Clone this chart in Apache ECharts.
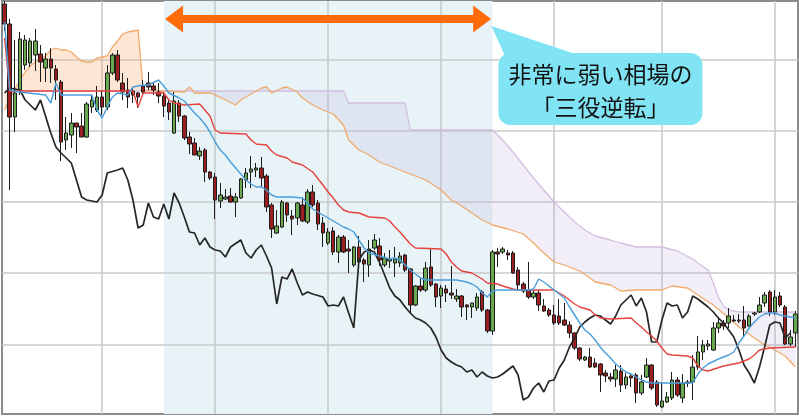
<!DOCTYPE html>
<html>
<head>
<meta charset="utf-8">
<script src="https://cdn.jsdelivr.net/npm/echarts/dist/echarts.min.js"></script>
<style>
html,body{margin:0;padding:0;background:#fff;}
#chart{width:799px;height:417px;}
</style>
</head>
<body>
<div id="chart"></div>
<script>
// ---- data (price units) ----
const dayCount = 155;
const days = Array.from({length: dayCount}, (_, i) => 'D' + (i + 1));

// [open, close, low, high]
const candles = [
[996,976,969,999],[976,883,810,981],[883,907,868,960],[910,961,905,968],[935,960,930,965],
[937,959,933,962],[945,959,929,971],[946,938,918,955],[932,941,918,947],[941,932,917,952],
[931,920,900,935],[918,858,839,920],[860,867,850,883],[865,877,852,887],[877,873,847,877],
[874,863,863,887],[863,896,862,898],[893,900,887,905],[890,903,888,914],[903,893,885,910],
[893,927,890,935],[927,945,925,947],[945,920,918,950],[917,908,900,927],[910,903,892,922],
[909,905,897,913],[907,903,892,908],[914,908,905,920],[917,913,910,928],[914,910,905,917],
[908,904,897,917],[904,894,883,908],[897,888,880,900],[867,899,866,908],[897,884,878,900],
[884,862,860,885],[863,856,846,868],[857,845,845,862],[844,849,840,853],[850,828,818,852],
[828,822,820,829],[823,800,781,827],[799,805,792,817],[801,803,800,811],[804,798,797,812],
[798,803,783,807],[802,821,801,822],[820,827,812,832],[828,831,812,844],[830,832,823,837],
[832,822,813,843],[824,793,788,826],[795,771,762,797],[767,774,766,790],[773,798,772,800],
[797,785,778,798],[784,781,765,790],[782,797,775,798],[795,779,778,802],[778,808,776,811],
[808,795,793,815],[797,776,770,800],[777,767,753,783],[757,768,755,772],[769,748,745,773],
[748,763,737,765],[763,748,747,765],[751,749,727,760],[735,753,733,754],[753,738,728,764],
[740,736,718,742],[735,751,723,760],[752,760,750,766],[754,740,734,762],[735,742,733,747],
[739,741,732,750],[737,741,723,753],[737,744,733,748],[745,730,728,746],[731,695,687,732],
[695,714,694,715],[714,710,708,722],[710,732,708,738],[733,715,713,752],[716,703,693,717],
[704,712,692,715],[711,707,698,715],[707,705,701,734],[701,704,698,711],[704,693,683,705],
[695,693,680,696],[693,697,682,697],[692,703,689,707],[708,690,688,710],[690,669,667,691],
[669,748,665,750],[748,746,733,752],[748,751,746,753],[747,745,740,750],[747,727,726,749],
[730,715,709,733],[716,709,707,718],[710,703,701,738],[703,707,701,710],[707,695,689,710],
[694,689,688,701],[690,685,683,692],[685,677,675,695],[684,677,675,701],[680,675,674,697],
[675,667,662,679],[667,652,650,668],[652,641,639,653],[640,643,639,644],[643,633,632,652],
[637,633,632,642],[636,625,608,637],[627,624,618,630],[623,621,618,627],[621,630,613,635],
[629,615,608,635],[615,623,611,627],[624,622,613,627],[625,607,597,627],[607,618,605,625],
[623,635,622,642],[635,612,610,636],[618,595,593,620],[593,599,592,618],[598,603,597,608],
[602,620,600,628],[620,605,603,623],[602,617,597,626],[618,617,613,620],[618,633,600,645],
[633,648,630,664],[648,655,640,660],[654,656,650,660],[650,672,649,678],[672,677,667,683],
[677,674,670,680],[677,684,672,692],[680,679,678,685],[680,679,677,686],[680,672,663,694],
[674,684,673,686],[686,687,684,688],[688,695,687,703],[697,705,693,708],[708,688,684,710],
[688,703,685,710],[704,695,693,708],[693,656,655,695],[656,663,654,670],[667,686,653,689]
];

// [day index, price]
const tenkan = [[0,978],[1,910],[3,908],[8,905],[9,897],[10,917],[11,905],[17,905],[18,890],[19,882],[20,893],[21,903],[22,907],[24,905],[25,913],[27,915],[28,915],[30,920],[31,914],[32,907],[34,902],[35,899],[36,893],[37,887],[38,882],[39,876],[40,868],[41,858],[42,850],[43,845],[44,838],[45,832],[46,826],[47,820],[48,816],[49,813],[50,813],[51,810],[52,805],[53,803],[56,803],[58,802],[59,797],[60,791],[62,785],[64,779],[66,773],[67,771],[68,768],[69,760],[70,752],[71,747],[73,744],[75,741],[76,742],[77,740],[78,735],[79,730],[80,726],[81,722],[82,720],[88,720],[90,718],[91,716],[92,713],[93,707],[94,703],[95,709],[96,710],[102,710],[103,711],[104,721],[105,718],[107,710],[109,702],[110,693],[111,685],[112,677],[113,670],[114,666],[115,660],[116,653],[117,647],[118,642],[119,636],[120,632],[121,628],[122,626],[123,623],[124,620],[125,618],[126,617],[134,617],[135,626],[136,632],[137,636],[139,641],[141,645],[142,648],[143,657],[144,664],[145,672],[146,678],[147,683],[148,686],[149,687],[150,687],[151,685],[152,684],[154,682]];

const kijun = [[0,962],[1,909],[25,909],[26,893],[27,907],[31,907],[32,900],[33,897],[35,895],[38,896],[39,890],[40,884],[41,870],[42,867],[47,866],[48,860],[49,856],[51,855],[52,849],[53,845],[55,842],[56,838],[58,835],[60,828],[62,815],[63,808],[64,802],[65,795],[66,790],[67,788],[69,787],[71,783],[74,782],[75,779],[76,773],[77,768],[78,762],[79,756],[80,752],[85,751],[86,746],[87,738],[88,733],[89,729],[91,727],[92,724],[93,721],[94,717],[96,716],[97,714],[99,711],[100,710],[107,710],[108,707],[109,704],[110,700],[111,696],[112,693],[114,690],[115,685],[116,682],[118,681],[122,682],[123,677],[124,673],[125,668],[126,664],[127,659],[128,652],[129,646],[130,645],[133,644],[134,642],[135,634],[136,630],[137,629],[140,634],[143,637],[145,641],[146,645],[147,650],[149,652],[154,653]];

const chikou = [[0,907],[1,912],[3,910],[4,900],[6,890],[7,900],[9,867],[10,853],[11,847],[13,837],[15,803],[16,800],[18,798],[19,805],[20,827],[22,830],[23,832],[24,820],[25,800],[26,772],[27,775],[28,797],[29,783],[30,781],[31,796],[32,781],[33,807],[34,797],[35,783],[36,768],[37,767],[38,755],[39,762],[40,753],[41,750],[42,749],[43,743],[44,753],[46,760],[47,747],[48,742],[49,750],[50,755],[51,744],[52,732],[53,696],[54,723],[55,721],[56,731],[57,717],[58,705],[59,708],[60,706],[62,703],[63,694],[64,695],[65,694],[66,703],[67,687],[68,672],[69,740],[70,748],[71,750],[72,748],[73,738],[74,725],[75,712],[76,704],[77,700],[78,693],[79,687],[80,682],[81,680],[82,677],[83,672],[84,663],[85,650],[86,642],[87,638],[88,635],[89,633],[90,628],[91,630],[92,623],[93,628],[94,624],[95,622],[96,623],[97,626],[98,630],[99,634],[100,625],[101,600],[102,603],[103,612],[104,617],[105,608],[106,619],[107,620],[108,632],[109,640],[110,653],[111,662],[112,673],[113,678],[114,682],[115,685],[116,684],[117,680],[118,676],[119,684],[120,695],[121,700],[122,705],[123,694],[124,702],[125,688],[126,658],[127,658],[128,680],[129,697],[130,694],[131,695],[132,682],[133,688],[134,704],[135,701],[136,697],[137,693],[138,688],[139,682],[140,677],[141,670],[142,663],[143,650],[144,635],[145,627],[146,617],[147,633],[148,653],[149,675],[150,678],[151,677],[152,662],[153,667]];

const senkouA = [[0,890],[1,901],[2,911],[3,920],[4,928],[5,934],[6,938],[7,941],[8,944],[9,950],[10,952],[11,950],[12,950],[13,948],[14,943],[15,939],[16,938],[17,938],[18,942],[19,943],[20,944],[21,953],[22,959],[23,966],[24,968],[25,969],[26,970],[27,910],[31,909],[35,908],[36,913],[37,907],[40,907],[41,905],[43,900],[45,895],[46,900],[48,906],[50,912],[51,913],[52,907],[54,912],[55,913],[57,908],[58,902],[60,895],[62,890],[64,886],[66,875],[67,860],[69,850],[71,845],[73,838],[76,832],[79,826],[82,820],[85,810],[87,800],[89,794],[91,787],[93,780],[95,775],[98,771],[101,766],[103,757],[105,747],[107,738],[109,735],[112,729],[114,722],[115,718],[118,715],[120,709],[123,710],[128,710],[130,714],[133,712],[135,705],[138,695],[141,682],[143,673],[146,662],[148,655],[150,650],[152,644],[154,633]];

const senkouB = [[0,909],[27,909],[66,909],[67,897],[78,897],[79,870],[95,870],[97,860],[99,848],[101,835],[103,822],[105,810],[107,798],[109,788],[111,778],[113,770],[115,764],[118,760],[120,757],[123,753],[128,753],[131,749],[134,741],[135,737],[137,730],[138,717],[139,703],[140,694],[141,690],[143,688],[154,688]];

const cloudRegions = [[0, 27], [27, 154]];   // bullish cloud, bearish cloud (day ranges)
const gridPrices = [655, 727, 798, 869, 940];
const monthStarts = [19, 41, 63, 85, 107, 128, 150];
const reversalRange = [31, 95];
const arrowPrice = 981;
const calloutLines = ['非常に弱い相場の', '「三役逆転」'];

// ---- styles ----
const C = {
  up: '#6aa84f', down: '#9b1f1f', edge: '#1c1c1c',
  tenkan: '#4a9fdb', kijun: '#e5433e', chikou: '#262626',
  spanA: '#f0aa6c', spanB: '#d2bfe0',
  cloudUp: 'rgba(247,172,108,0.30)', cloudDown: 'rgba(190,170,215,0.20)',
  shade: '#e7f3f7', grid: '#cacaca', arrow: '#ff6a0a', callout: '#80e4f5'
};

const chart = echarts.init(document.getElementById('chart'), null, {renderer: 'canvas'});

function lineSeries(name, data, color, width, z) {
  return { name, type: 'line', data, symbol: 'none', z, silent: true,
           lineStyle: { color, width }, animation: false };
}

const option = {
  animation: false,
  backgroundColor: '#ffffff',
  grid: { left: 2, right: 1, top: 1, bottom: 3, show: true, borderColor: '#8c8c8c', borderWidth: 2,
          backgroundColor: 'transparent', outerBoundsMode: 'none' },
  xAxis: { type: 'category', data: days, boundaryGap: true,
           axisLine: {show: false}, axisTick: {show: false}, axisLabel: {show: false}, splitLine: {show: false} },
  yAxis: { type: 'value', min: 586, max: 999, scale: true,
           axisLine: {show: false}, axisTick: {show: false}, axisLabel: {show: false}, splitLine: {show: false} },
  series: [
    { name: 'bg', type: 'line', data: [], z: 0, silent: true,
      markArea: { silent: true, z: 0, itemStyle: { color: C.shade },
                  data: [[{ xAxis: reversalRange[0] }, { xAxis: reversalRange[1] }]] },
      markLine: { silent: true, z: 1, symbol: 'none', label: {show: false},
                  lineStyle: { color: C.grid, width: 1.6, type: 'solid' },
                  data: monthStarts.map(i => ({ xAxis: i })).concat(gridPrices.map(p => ({ yAxis: p }))) } },
    { name: 'cloud', type: 'custom', z: 2, silent: true, clip: true,
      data: cloudRegions.map((r, k) => [k, 800]),
      renderItem: function (params, api) {
        const r = cloudRegions[params.dataIndex];
        const top = senkouA.filter(d => d[0] >= r[0] && d[0] <= r[1]).map(d => api.coord(d));
        const bot = senkouB.filter(d => d[0] >= r[0] && d[0] <= r[1]).reverse().map(d => api.coord(d));
        return { type: 'polygon', shape: { points: top.concat(bot) },
                 style: { fill: params.dataIndex === 0 ? C.cloudUp : C.cloudDown } };
      } },
    lineSeries('spanB', senkouB, C.spanB, 1.3, 3),
    lineSeries('spanA', senkouA, C.spanA, 1.3, 3),
    { name: 'price', type: 'candlestick', data: candles, z: 4, silent: true, barWidth: 4,
      itemStyle: { color: C.up, color0: C.down, borderColor: C.edge, borderColor0: C.edge,
                   borderColorDoji: C.edge, borderWidth: 1 } },
    lineSeries('chikou', chikou, C.chikou, 1.7, 5),
    lineSeries('kijun', kijun, C.kijun, 1.4, 6),
    lineSeries('tenkan', tenkan, C.tenkan, 1.4, 7),
    { name: 'arrow', type: 'line', data: [], z: 10, silent: true,
      markLine: { silent: true, z: 10, symbol: ['triangle', 'triangle'], symbolSize: [27, 18],
                  label: {show: false},
                  lineStyle: { color: C.arrow, width: 8, type: 'solid', opacity: 1 },
                  itemStyle: { color: C.arrow },
                  data: [[{ coord: [reversalRange[0] + 2, arrowPrice] }, { coord: [reversalRange[1] - 2, arrowPrice] }]] } }
  ]
};
chart.setOption(option);

// callout anchored at the arrow's right end
const tip = chart.convertToPixel({ gridIndex: 0 }, [reversalRange[1], arrowPrice]);
chart.setOption({
  graphic: [
    { type: 'polygon', z: 20, silent: true,
      shape: { points: [[tip[0] - 1, tip[1] + 7], [tip[0] + 13, tip[1] + 38], [tip[0] + 92, tip[1] + 38]] },
      style: { fill: C.callout } },
    { type: 'rect', z: 20, silent: true,
      shape: { x: tip[0] + 6, y: tip[1] + 34, width: 204, height: 72, r: 12 },
      style: { fill: C.callout } },
    { type: 'text', z: 21, silent: true,
      style: { text: calloutLines.join('\n'), x: tip[0] + 108, y: tip[1] + 72,
               align: 'center', verticalAlign: 'middle', lineHeight: 33,
               font: '23px "Noto Sans CJK JP", sans-serif', fill: '#111111' } }
  ]
});
</script>
</body>
</html>
